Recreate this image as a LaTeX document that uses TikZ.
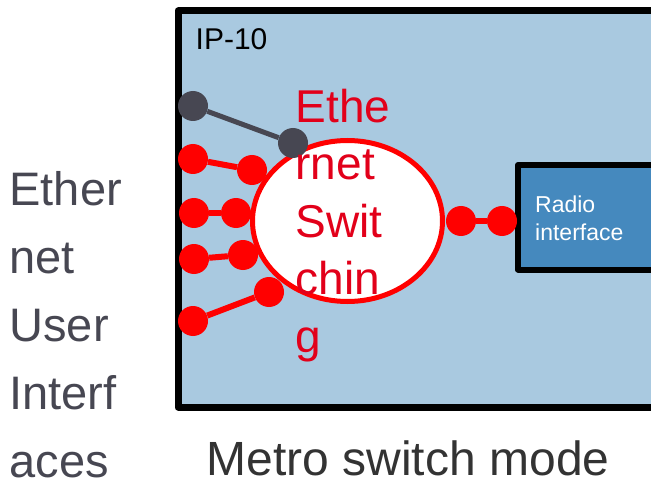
\documentclass[tikz,border=0pt]{standalone}
\usepackage{fontspec}
\setmainfont{Liberation Sans}
\usetikzlibrary{shapes.geometric}

\definecolor{boardblue}{HTML}{A9C9E0}
\definecolor{radioblue}{HTML}{4589BE}
\definecolor{portred}{HTML}{FF0000}
\definecolor{labelred}{HTML}{E2001A}
\definecolor{mgmtgray}{HTML}{474752}
\definecolor{sidegray}{HTML}{474752}
\definecolor{captiongray}{HTML}{333333}

\begin{document}
\begin{tikzpicture}[x=1pt,y=-1pt,line join=round,
  port/.style={circle,fill=portred,minimum size=30pt,inner sep=0pt},
  mgmtport/.style={port,fill=mgmtgray},
  link/.style={draw=portred,line width=6pt},
  mgmtlink/.style={draw=mgmtgray,line width=5pt}]
  % page is 651 x 484, measured in px from the top left corner
  \useasboundingbox[fill=white] (0,0) rectangle (651,484);
  \clip (0,0) rectangle (651,484);

  % the IP-10 unit, running off the right side
  \draw[line width=7pt,fill=boardblue] (178,11) rectangle (690,407);
  \node[anchor=base west,inner sep=0pt,font=\fontsize{30}{36}\selectfont] (unit) at (195.5,50) {IP-10};

  % radio side
  \draw[line width=6pt,fill=radioblue] (518,165) rectangle (690,269.5);
  \node[anchor=north west,inner sep=0pt,align=left,text=white,
        font=\fontsize{23}{28}\selectfont] (radio) at (535,195.2) {Radio\\interface};

  % the switch itself
  \node[ellipse,draw=portred,line width=5pt,fill=white,
        minimum width=190pt,minimum height=161pt] (switch) at (347.5,221) {};

  % management port (gray)
  \node[mgmtport] (mgmtout) at (193,106) {};
  \node[mgmtport] (mgmtin) at (293,143) {};
  \draw[mgmtlink] (mgmtout) -- (mgmtin);

  % user ports: outer dot / inner dot
  \foreach \n/\ox/\oy/\ix/\iy in {1/193/159/252/170,
                                  2/194/213/236/213,
                                  3/194/259/243/255,
                                  4/193/321/269/292} {
    \node[port] (out\n) at (\ox,\oy) {};
    \node[port] (in\n) at (\ix,\iy) {};
    \draw[link] (out\n) -- (in\n);
  }

  % link towards the radio
  \node[port] (swport) at (461,221) {};
  \node[port] (radport) at (502,221) {};
  \draw[link] (swport) -- (radport);

  % labels
  \node[anchor=north west,inner sep=0pt,align=left,text=labelred,
        font=\fontsize{46}{57.5}\selectfont] (swlabel) at (295.4,88.5)
        {Ethe\\rnet\\Swit\\chin\\g};
  \node[anchor=north west,inner sep=0pt,align=left,text=sidegray,
        font=\fontsize{47}{68}\selectfont] (uilabel) at (9.3,171.7)
        {Ether\\net\\User\\Interf\\aces};
  \node[anchor=base west,inner sep=0pt,text=captiongray,
        font=\fontsize{48}{56}\selectfont] (caption) at (206.5,475)
        {Metro switch mode};
\end{tikzpicture}
\end{document}
